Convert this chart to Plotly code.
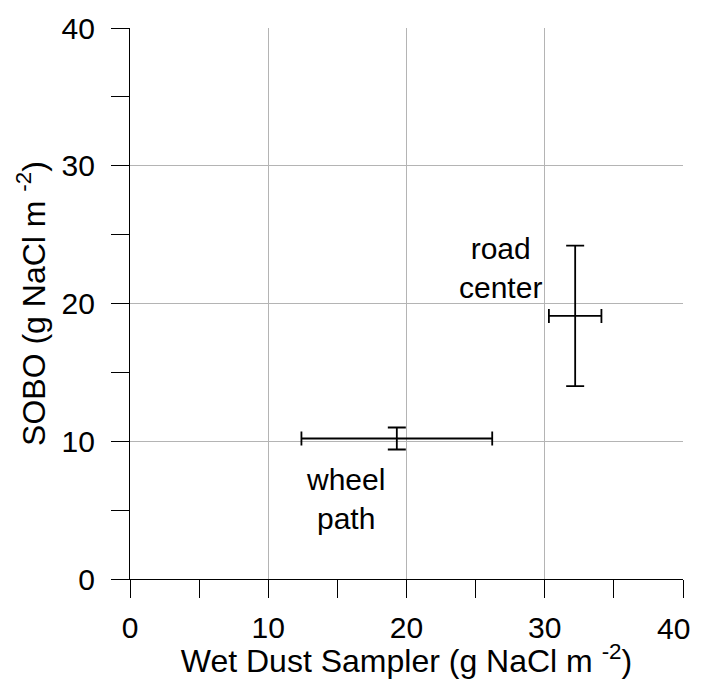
import plotly.graph_objects as go

# Measurements (g NaCl m-2)
sites = ["wheel<br>path", "road<br>center"]
wds_mean = [19.3, 32.2]
wds_err = [6.9, 1.9]
sobo_mean = [10.2, 19.1]
sobo_err = [0.8, 5.1]

# tick labels; the last x label is drawn separately so it is not cut at the page edge
tick_vals = [0, 10, 20, 30, 40]
tick_text = ["0", "10", "20", "30", "40"]

# label positions
label_x = [15.6, 26.8]
label_y = [5.8, 22.6]

font = "Liberation Sans, Arial, sans-serif"

fig = go.Figure()
for i in range(len(sites)):
    fig.add_trace(go.Scatter(
        x=[wds_mean[i]], y=[sobo_mean[i]],
        mode="markers",
        marker=dict(size=1, color="rgba(0,0,0,0)"),
        error_x=dict(type="data", array=[wds_err[i]], color="black", thickness=1.8, width=7),
        error_y=dict(type="data", array=[sobo_err[i]], color="black", thickness=1.8, width=9),
        showlegend=False,
    ))
    fig.add_annotation(x=label_x[i], y=label_y[i], text=sites[i], showarrow=False,
                       font=dict(size=30, color="black", family=font), align="center")

axis_style = dict(
    range=[0, 40], tickmode="array", tickvals=tick_vals,
    showgrid=True, gridcolor="#b4b4b4", gridwidth=1,
    showline=True, linecolor="black", linewidth=1.2,
    ticks="outside", ticklen=18, tickcolor="black", tickwidth=1.2,
    tickfont=dict(size=30, color="black", family=font),
    minor=dict(dtick=5, ticks="outside", ticklen=18, tickcolor="black", showgrid=False),
    zeroline=False, fixedrange=True, automargin=False,
    ticklabeloverflow="allow",
)

fig.update_xaxes(**axis_style, ticktext=tick_text[:-1] + [""], ticklabelstandoff=4,
                 title=dict(text="Wet Dust Sampler (g NaCl m <sup>-2</sup>)",
                            font=dict(size=32, color="black", family=font), standoff=0))
fig.update_yaxes(**axis_style, ticktext=tick_text, ticklabelstandoff=10,
                 title=dict(text="SOBO (g NaCl m <sup>-2</sup>)",
                            font=dict(size=32, color="black", family=font), standoff=6))

fig.add_annotation(x=tick_vals[-1], xref="x", xanchor="right", xshift=9,
                   y=0, yref="paper", yanchor="middle", yshift=-49,
                   text=tick_text[-1], showarrow=False,
                   font=dict(size=30, color="black", family=font))

# page body has an 8px margin, so shift everything up/left
fig.update_layout(
    width=694, height=671,
    margin=dict(l=122, r=19, t=20, b=100),
    plot_bgcolor="white", paper_bgcolor="white",
)

fig.write_html("out.html")
